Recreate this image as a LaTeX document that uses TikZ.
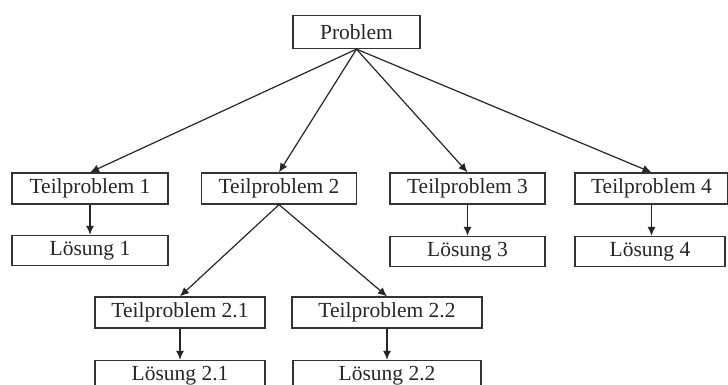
\documentclass[tikz,border=0pt]{standalone}
\usepackage{fontspec}
\setmainfont{Liberation Serif}
\usetikzlibrary{arrows.meta}
\begin{document}
\begin{tikzpicture}[x=1pt,y=-1pt,
  box/.style={draw=black!80, line width=1.3pt, inner sep=0pt, font=\fontsize{21.5}{23}\selectfont, text=black!85, minimum height=31pt},
  arr/.style={draw=black!85, line width=1.2pt, -{Latex[length=9pt,width=8pt]}}]
\useasboundingbox (0,0) rectangle (728,385);
\clip (0,0) rectangle (728,385);
\fill[white] (0,0) rectangle (728,385);
\node[box, minimum width=127pt, minimum height=33pt] (P) at (356.5,32) {Problem};
\node[box, minimum width=156pt] (T1) at (90,188.5) {Teilproblem 1};
\node[box, minimum width=156pt, minimum height=30pt] (L1) at (90,250.5) {Lösung 1};
\node[box, minimum width=155pt] (T2) at (279,188.5) {Teilproblem 2};
\node[box, minimum width=155pt] (T3) at (467.5,188.5) {Teilproblem 3};
\node[box, minimum width=155pt, minimum height=30pt] (L3) at (467.5,251.5) {Lösung 3};
\node[box, minimum width=153pt] (T4) at (651.5,188.5) {Teilproblem 4};
\node[box, minimum width=150pt, minimum height=30pt] (L4) at (650,251.5) {Lösung 4};
\node[box, minimum width=170pt] (T21) at (180,312.5) {Teilproblem 2.1};
\node[box, minimum width=170pt] (L21) at (180,376) {Lösung 2.1};
\node[box, minimum width=190pt] (T22) at (387,312.5) {Teilproblem 2.2};
\node[box, minimum width=188pt] (L22) at (387,376) {Lösung 2.2};
\draw[arr] (P.south) -- (T1.north);
\draw[arr] (P.south) -- (T2.north);
\draw[arr] (P.south) -- (T3.north);
\draw[arr] (P.south) -- (T4.north);
\draw[arr] (T1) -- (L1);
\draw[arr] (T3) -- (L3);
\draw[arr] (T4.south) -- (L4.north -| T4.south);
\draw[arr] (T2.south) -- (T21.north);
\draw[arr] (T2.south) -- (T22.north);
\draw[arr] (T21) -- (L21);
\draw[arr] (T22) -- (L22);
\end{tikzpicture}
\end{document}
